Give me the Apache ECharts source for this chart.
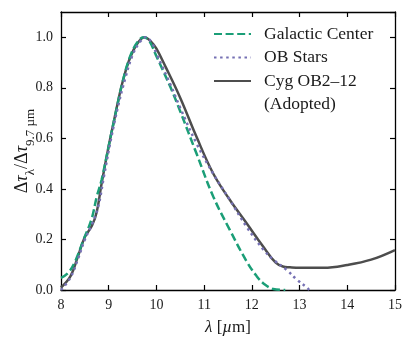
<!DOCTYPE html>
<html>
<head>
<meta charset="utf-8">
<script src="https://cdn.jsdelivr.net/npm/echarts@6/dist/echarts.min.js"></script>
<style>
  html, body { margin: 0; padding: 0; background: #fff; }
  #chart { width: 415px; height: 345px; }
</style>
</head>
<body>
<div id="chart"></div>
<script>
// 各曲线数据（波长 µm，归一化光深）
const gcX = [8.0, 8.15, 8.3, 8.47, 8.64, 8.75, 8.85, 9.0, 9.1, 9.3, 9.45, 9.6, 9.73, 9.85, 10.0, 10.3, 10.49, 10.84, 11.19, 11.54, 11.9, 12.1, 12.25, 12.45, 12.7];
const gcY = [0.048, 0.068, 0.115, 0.198, 0.28, 0.37, 0.435, 0.57, 0.66, 0.83, 0.925, 0.98, 1.0, 0.985, 0.925, 0.80, 0.711, 0.54, 0.37, 0.237, 0.11, 0.055, 0.025, 0.004, 0.0];

const obX = [8.0, 8.2, 8.35, 8.5, 8.65, 8.78, 8.9, 9.05, 9.2, 9.35, 9.5, 9.65, 9.77, 9.9, 10.0, 10.3, 10.5, 10.84, 11.19, 11.54, 11.89, 12.24, 12.45, 12.73, 12.95, 13.15, 13.2];
const obY = [0.0, 0.05, 0.12, 0.2, 0.26, 0.33, 0.45, 0.6, 0.73, 0.84, 0.93, 0.98, 1.0, 0.98, 0.935, 0.81, 0.72, 0.58, 0.46, 0.356, 0.25, 0.16, 0.12, 0.079, 0.04, 0.01, 0.0];

const cygX = [8.0, 8.2, 8.35, 8.5, 8.65, 8.75, 8.85, 9.0, 9.1, 9.2, 9.3, 9.45, 9.6, 9.75, 9.9, 10.0, 10.2, 10.5, 10.84, 11.19, 11.54, 11.89, 12.24, 12.5, 12.65, 12.8, 13.0, 13.5, 14.0, 14.5, 15.0];
const cygY = [0.01, 0.055, 0.13, 0.21, 0.255, 0.31, 0.42, 0.57, 0.66, 0.75, 0.83, 0.92, 0.975, 1.0, 0.98, 0.955, 0.88, 0.76, 0.606, 0.461, 0.356, 0.264, 0.171, 0.108, 0.093, 0.09, 0.088, 0.088, 0.099, 0.12, 0.158];

const legendNames = ["Galactic Center", "OB Stars", "Cyg OB2\u201312", "(Adopted)"];

const serif = "Liberation Serif";
const zip = (xs, ys) => xs.map((x, i) => [x, ys[i]]);

const chart = echarts.init(document.getElementById("chart"));

// 公共坐标轴样式
const axisLine = { show: true, onZero: false, lineStyle: { color: "#000", width: 1.3 } };
const axisTick = { show: true, inside: true, length: 5, lineStyle: { color: "#000", width: 1.2 } };

chart.setOption({
  animation: false,
  backgroundColor: "#fff",
  grid: { left: 61, right: 20, top: 12, bottom: 55, outerBoundsMode: "none", containLabel: false },
  legend: {
    left: 213,
    top: 24,
    padding: 0,
    orient: "vertical",
    itemWidth: 37,
    itemHeight: 14,
    itemGap: 3.5,
    selectedMode: false,
    textStyle: { fontFamily: serif, fontSize: 17.5, color: "#1a1a1a", lineHeight: 20, padding: [0, 0, 0, 8] },
    data: [
      legendNames[0],
      legendNames[1],
      legendNames[2],
      { name: legendNames[3], itemStyle: { opacity: 0 }, lineStyle: { opacity: 0 } },
    ],
  },
  xAxis: [
    {
      type: "value",
      min: 8,
      max: 15,
      interval: 1,
      name: "{i|\u03bb} [{i|\u00b5}m]",
      nameLocation: "middle",
      nameGap: 29,
      nameTextStyle: {
        fontFamily: serif, fontSize: 17, color: "#1a1a1a",
        rich: { i: { fontFamily: serif, fontSize: 17, fontStyle: "italic", color: "#1a1a1a" } },
      },
      axisLine,
      axisTick,
      splitLine: { show: false },
      axisLabel: { fontFamily: serif, fontSize: 14, color: "#1a1a1a", margin: 8 },
    },
    {
      type: "value",
      position: "top",
      min: 8,
      max: 15,
      interval: 1,
      axisLine,
      axisTick,
      splitLine: { show: false },
      axisLabel: { show: false },
    },
  ],
  yAxis: [
    {
      type: "value",
      min: 0,
      max: 1.1,
      interval: 0.2,
      name: "{n|\u0394}{i|\u03c4}{s|\u03bb}{n|/\u0394}{i|\u03c4}{s|9.7 \u00b5m}",
      nameLocation: "middle",
      nameRotate: 90,
      nameGap: 24,
      nameMoveOverlap: false,
      nameTextStyle: {
        rich: {
          n: { fontFamily: serif, fontSize: 18, color: "#1a1a1a", lineHeight: 24, verticalAlign: "top" },
          i: { fontFamily: serif, fontSize: 18, fontStyle: "italic", color: "#1a1a1a", lineHeight: 24, verticalAlign: "top" },
          s: { fontFamily: serif, fontSize: 13, color: "#1a1a1a", lineHeight: 13, verticalAlign: "bottom" },
        },
      },
      axisLine,
      axisTick,
      splitLine: { show: false },
      axisLabel: {
        fontFamily: serif, fontSize: 14, color: "#1a1a1a", margin: 8,
        showMaxLabel: false,
        formatter: (v) => v.toFixed(1),
      },
    },
    {
      type: "value",
      position: "right",
      min: 0,
      max: 1.1,
      interval: 0.2,
      axisLine,
      axisTick,
      splitLine: { show: false },
      axisLabel: { show: false },
    },
  ],
  series: [
    {
      name: legendNames[2],
      type: "line",
      data: zip(cygX, cygY),
      smooth: 0.4,
      symbol: "none",
      lineStyle: { color: "#4d4d4d", width: 2.5 },
      itemStyle: { color: "#4d4d4d", opacity: 0 },
      z: 2,
    },
    {
      name: legendNames[0],
      type: "line",
      data: zip(gcX, gcY),
      smooth: 0.4,
      symbol: "none",
      lineStyle: { color: "#1b9e77", width: 2.5, type: [8, 3.6] },
      itemStyle: { color: "#1b9e77", opacity: 0 },
      z: 3,
    },
    {
      name: legendNames[1],
      type: "line",
      data: zip(obX, obY),
      smooth: 0.4,
      symbol: "none",
      lineStyle: { color: "#7570b3", width: 2.5, type: [2.5, 3.6] },
      itemStyle: { color: "#7570b3", opacity: 0 },
      z: 4,
    },
    {
      name: legendNames[3],
      type: "line",
      data: [],
      symbol: "none",
      lineStyle: { opacity: 0 },
      itemStyle: { opacity: 0 },
    },
  ],
});
</script>
</body>
</html>
